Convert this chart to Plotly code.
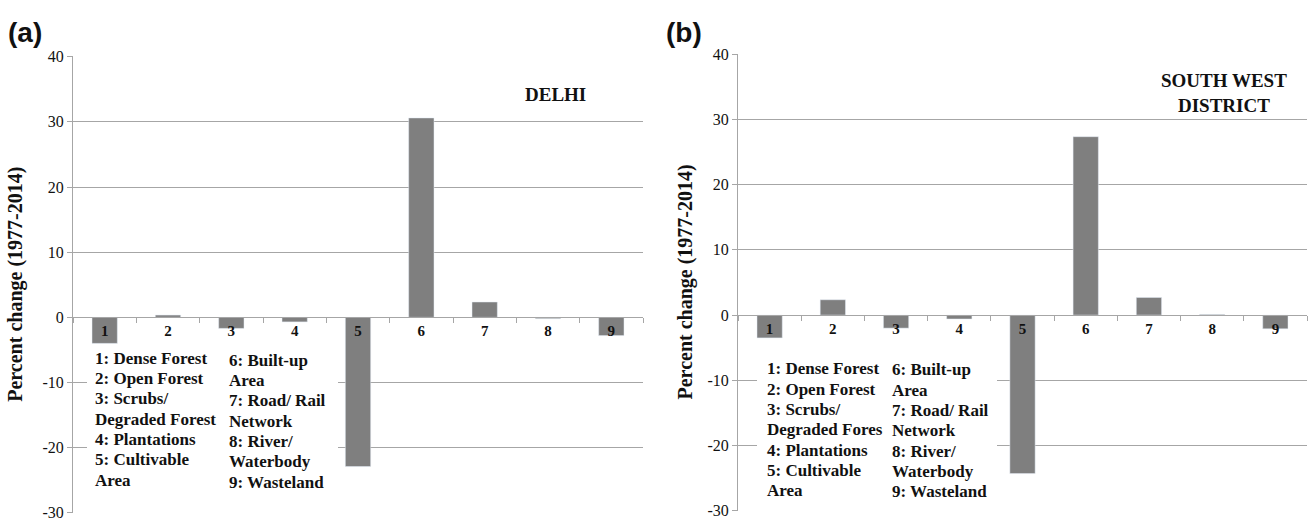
import plotly.graph_objects as go

W, H = 1309, 528

categories = ["1", "2", "3", "4", "5", "6", "7", "8", "9"]
delhi_change = [-4.0, 0.35, -1.7, -0.7, -22.9, 30.6, 2.35, -0.2, -2.8]
southwest_change = [-3.5, 2.35, -2.0, -0.6, -24.3, 27.35, 2.7, 0.1, -2.1]

legend_col1 = ["1: Dense Forest", "2: Open Forest", "3: Scrubs/", "Degraded Forest",
               "4: Plantations", "5: Cultivable", "Area"]
legend_col1_b = ["1: Dense Forest", "2: Open Forest", "3: Scrubs/", "Degraded Fores",
                 "4: Plantations", "5: Cultivable", "Area"]
legend_col2 = ["6: Built-up", "Area", "7: Road/ Rail", "Network", "8: River/",
               "Waterbody", "9: Wasteland"]

y_range = [-30.03, 40.03]
y_ticks = [-30, -20, -10, 0, 10, 20, 30, 40]
y_ticktext = ["-30", "-20", "-10", "0", "10", "20", "30", "40"]
y_title = "Percent change (1977-2014)"

SERIF = "Liberation Serif"
SANS = "Liberation Sans"
BAR = "#7f7f7f"
GRID = "#a6a6a6"


def px(x):
    return x / W


def py(y):
    return 1 - y / H


# panel geometry (pixels)
pa = dict(x0=73, x1=643, ytop=50, ybot=520.8)
pb = dict(x0=738, x1=1307, ytop=47.4, ybot=518.7)

fig = go.Figure()
fig.add_trace(go.Bar(x=categories, y=delhi_change, marker_color=BAR, width=0.4,
                     xaxis="x", yaxis="y", showlegend=False))
fig.add_trace(go.Bar(x=categories, y=southwest_change, marker_color=BAR, width=0.4,
                     xaxis="x2", yaxis="y2", showlegend=False))


def zero_pos(p):
    y0, y1 = py(p["ybot"]), py(p["ytop"])
    return y0 + (0 - y_range[0]) / (y_range[1] - y_range[0]) * (y1 - y0)


xcommon = dict(type="category", showgrid=False, showline=True, linecolor=GRID, linewidth=1,
               ticks="outside", tickson="boundaries", ticklen=5, tickcolor=GRID,
               tickfont=dict(family=SERIF, size=15, color="#111", weight="bold"),
               anchor="free", range=[-0.5, 8.5], zeroline=False)
ycommon = dict(range=y_range, tickvals=y_ticks, ticktext=y_ticktext, showgrid=True,
               gridcolor=GRID, gridwidth=1,
               showline=True, linecolor=GRID, linewidth=1, ticks="outside", ticklen=5,
               tickcolor=GRID, zeroline=False,
               tickfont=dict(family=SERIF, size=16, color="#111"))

layout = dict(
    width=W, height=H, margin=dict(l=0, r=0, t=0, b=0),
    paper_bgcolor="white", plot_bgcolor="white",
    xaxis=dict(xcommon, domain=[px(pa["x0"]), px(pa["x1"])], position=zero_pos(pa)),
    yaxis=dict(ycommon, domain=[py(pa["ybot"]), py(pa["ytop"])], anchor="x"),
    xaxis2=dict(xcommon, domain=[px(pb["x0"]), px(pb["x1"])], position=zero_pos(pb)),
    yaxis2=dict(ycommon, domain=[py(pb["ybot"]), py(pb["ytop"])], anchor="x2"),
)
fig.update_layout(**layout)

shapes = []
annotations = []

# white boxes under legend text (interrupt gridlines)
for (x0, x1, y0, y1) in [(87, 338, 350, 503), (757, 997, 360, 510)]:
    shapes.append(dict(type="rect", xref="paper", yref="paper", x0=px(x0), x1=px(x1),
                       y0=py(y1), y1=py(y0), fillcolor="white", line=dict(width=0),
                       layer="above"))


def add_lines(lines, x, ys):
    for t, yy in zip(lines, ys):
        annotations.append(dict(text="<b>" + t + "</b>", xref="paper", yref="paper",
                                x=px(x), y=py(yy), xanchor="left", yanchor="middle",
                                showarrow=False,
                                font=dict(family=SERIF, size=17, color="#111")))


ys_a = [361 + 21 * i for i in range(7)]
ys_b = [372 + 21 * i for i in range(7)]
add_lines(legend_col1, 93, ys_a)
add_lines(legend_col2, 227, [y + 2 for y in ys_a])
add_lines(legend_col1_b, 765, ys_b)
add_lines(legend_col2, 890, [y + 1 for y in ys_b])

# panel titles
annotations.append(dict(text="<b>DELHI</b>", xref="paper", yref="paper", x=px(555), y=py(89),
                        xanchor="center", yanchor="middle", showarrow=False,
                        font=dict(family=SERIF, size=19, color="#111")))
annotations.append(dict(text="<b>SOUTH WEST<br>DISTRICT</b>", xref="paper", yref="paper",
                        x=px(1224), y=py(87.5), xanchor="center", yanchor="middle",
                        showarrow=False, align="center",
                        font=dict(family=SERIF, size=19, color="#111")))

# y axis titles
for xx, yy in [(16, (pa["ytop"] + pa["ybot"]) / 2), (685, (pb["ytop"] + pb["ybot"]) / 2)]:
    annotations.append(dict(text="<b>" + y_title + "</b>", xref="paper", yref="paper",
                            x=px(xx), y=py(yy), xanchor="center", yanchor="middle",
                            textangle=-90, showarrow=False,
                            font=dict(family=SERIF, size=20, color="#111")))

# panel letters
for t, xx in [("(a)", 6), ("(b)", 664)]:
    annotations.append(dict(text="<b>" + t + "</b>", xref="paper", yref="paper",
                            x=px(xx), y=py(25), xanchor="left", yanchor="middle",
                            showarrow=False, font=dict(family=SANS, size=28, color="#111")))

fig.update_layout(shapes=shapes, annotations=annotations)

fig.write_html("out.html", config={"displayModeBar": False},
               post_script="document.body.style.margin='0px';document.body.style.overflow='hidden';")
